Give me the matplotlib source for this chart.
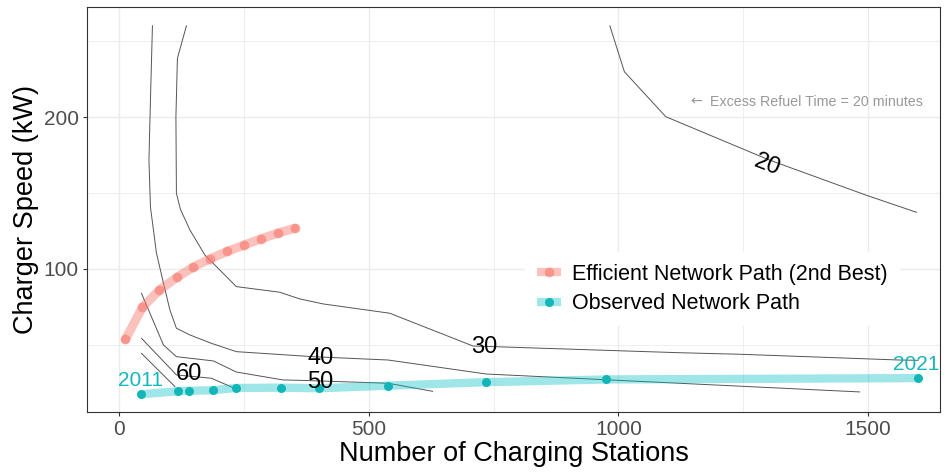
import numpy as np
import matplotlib.pyplot as plt
from matplotlib.lines import Line2D
from matplotlib.ticker import FixedLocator

plt.rcParams['font.family'] = ['Liberation Sans', 'DejaVu Sans']

# ── Data ─────────────────────────────────────────────────────────────────────

# observed network path, 2011 -> 2021
obs_stations = [45, 118, 141, 188, 234, 324, 401, 539, 734, 975, 1600]
obs_speed    = [17.6, 19.5, 19.9, 20.2, 21.7, 21.9, 21.5, 23.2, 25.5, 27.3, 28.2]
obs_years    = ["2011", "2021"]

# efficient network path (2nd best)
eff_stations = [13, 47, 81, 116, 149, 183, 217, 251, 285, 319, 352]
eff_speed    = [53.7, 74.8, 86.2, 94.5, 101.3, 106.8, 111.6, 115.8, 119.9, 123.7, 126.8]

# iso-lines of excess refuel time (minutes)
c20_x = [983, 1012, 1095, 1300, 1495, 1597]
c20_y = [260, 229.8, 200.2, 172.0, 148.7, 137.3]

c30_x = [135, 117, 114, 115, 123, 142, 172, 235, 322, 362, 409, 542, 709, 749, 1122, 1242, 1562, 1600]
c30_y = [260, 238.6, 200.2, 149.8, 139.3, 125.7, 109.2, 88.4, 84.7, 80.3, 77.0, 70.9, 49.3,
         48.9, 44.9, 43.9, 40.1, 39.9]

c40_x = [67, 63, 60, 63, 75, 89, 102, 115, 142, 185, 235, 388, 539, 735, 1483]
c40_y = [260, 211.2, 171.7, 140.8, 110.5, 90.8, 73.0, 61.0, 56.6, 51.1, 45.6, 42.3, 40.1, 30.9, 19.1]

c50_x = [45, 89, 115, 189, 235, 328, 376, 539, 628]
c50_y = [84.0, 50.0, 42.3, 39.5, 32.2, 27.0, 26.6, 24.8, 19.5]

c60_x = [45, 115, 185, 234]
c60_y = [54.4, 30.3, 28.1, 21.1]

c70_x = [45, 112]
c70_y = [44.5, 22.6]

# ── Plot ─────────────────────────────────────────────────────────────────────

TEAL = "#00BFC4"
TEAL_DOT = "#13B6B8"
RED = "#F8766D"

fig = plt.figure(figsize=(9.49, 4.73), dpi=100)
ax = fig.add_axes([0.0917, 0.129, 0.8988, 0.8562])

ax.set_xlim(-64, 1644)
ax.set_ylim(5.9, 272.4)

ax.xaxis.set_major_locator(FixedLocator([0, 500, 1000, 1500]))
ax.xaxis.set_minor_locator(FixedLocator([250, 750, 1250]))
ax.yaxis.set_major_locator(FixedLocator([100, 200]))
ax.yaxis.set_minor_locator(FixedLocator([50, 150, 250]))
ax.grid(which="major", color="#EBEBEB", lw=1.0, zorder=0)
ax.grid(which="minor", color="#EBEBEB", lw=0.6, zorder=0)
ax.set_axisbelow(True)
ax.tick_params(which="minor", length=0)
ax.tick_params(which="major", length=3, width=0.8, color="#333333",
               labelsize=15, labelcolor="#4D4D4D", pad=3)
for spine in ax.spines.values():
    spine.set_color("#333333")
    spine.set_linewidth(0.8)

# contour lines + labels
contours = [(c20_x, c20_y), (c30_x, c30_y), (c40_x, c40_y),
            (c50_x, c50_y), (c60_x, c60_y), (c70_x, c70_y)]
for cx, cy in contours:
    ax.plot(cx, cy, color="#555555", lw=0.7, zorder=2)

def on_line(cx, cy, x):
    order = np.argsort(cx)
    return np.interp(x, np.array(cx)[order], np.array(cy)[order])

LBL = 17
ax.text(1299, on_line(c20_x, c20_y, 1299) - 3.5, "20", fontsize=LBL, rotation=-21,
        ha="center", va="center", zorder=5)
ax.text(732, 48.4, "30", fontsize=LBL, ha="center", va="center", zorder=5)
ax.text(403, 41.2, "40", fontsize=LBL, ha="center", va="center", zorder=5)
ax.text(403, 25.9, "50", fontsize=LBL, ha="center", va="center", zorder=5)
ax.text(141, 30.8, "60", fontsize=LBL, ha="center", va="center", zorder=5)

# paths
ax.plot(eff_stations, eff_speed, color=RED, lw=6.5, alpha=0.45,
        solid_capstyle="round", zorder=3)
ax.plot(eff_stations, eff_speed, "o", color=RED, ms=7, alpha=0.6, mec="none", zorder=4)

ax.plot(obs_stations, obs_speed, color=TEAL, lw=6, alpha=0.38,
        solid_capstyle="butt", zorder=3)
ax.plot(obs_stations, obs_speed, "o", color=TEAL_DOT, ms=6.5, mec="none", zorder=4)

ax.text(obs_stations[0] - 2, obs_speed[0] + 8.7, obs_years[0], color="#17B6BA",
        fontsize=15, ha="center", va="center", zorder=5)
ax.text(obs_stations[-1] - 3, obs_speed[-1] + 9.2, obs_years[-1], color="#17B6BA",
        fontsize=15, ha="center", va="center", zorder=5)

ax.text(1145, 210, "\u2190", color="#999999", fontsize=10.3, family="DejaVu Sans",
        ha="left", va="center", zorder=5)
ax.text(1183, 210, "Excess Refuel Time = 20 minutes", color="#999999",
        fontsize=10.3, ha="left", va="center", zorder=5)

ax.set_xlabel("Number of Charging Stations", fontsize=19.5, labelpad=1)
ax.set_ylabel("Charger Speed (kW)", fontsize=19.5, labelpad=3)

# legend
h_eff = (Line2D([], [], color=RED, lw=6, alpha=0.45, solid_capstyle="butt"),
         Line2D([], [], color=RED, marker="o", ms=7, alpha=0.6, lw=0, mec="none"))
h_obs = (Line2D([], [], color=TEAL, lw=6, alpha=0.38, solid_capstyle="butt"),
         Line2D([], [], color=TEAL_DOT, marker="o", ms=6.5, lw=0, mec="none"))
leg = ax.legend([h_eff, h_obs],
                ["Efficient Network Path (2nd Best)", "Observed Network Path"],
                loc="upper left", bbox_to_anchor=(0.5135, 0.395), borderaxespad=0,
                fontsize=15.5, frameon=True, fancybox=False, framealpha=1,
                edgecolor="none", facecolor="white", handlelength=1.1,
                handletextpad=0.55, labelspacing=0.4, borderpad=0.55)
leg.set_zorder(6)

fig.savefig("out.png", dpi=100)
